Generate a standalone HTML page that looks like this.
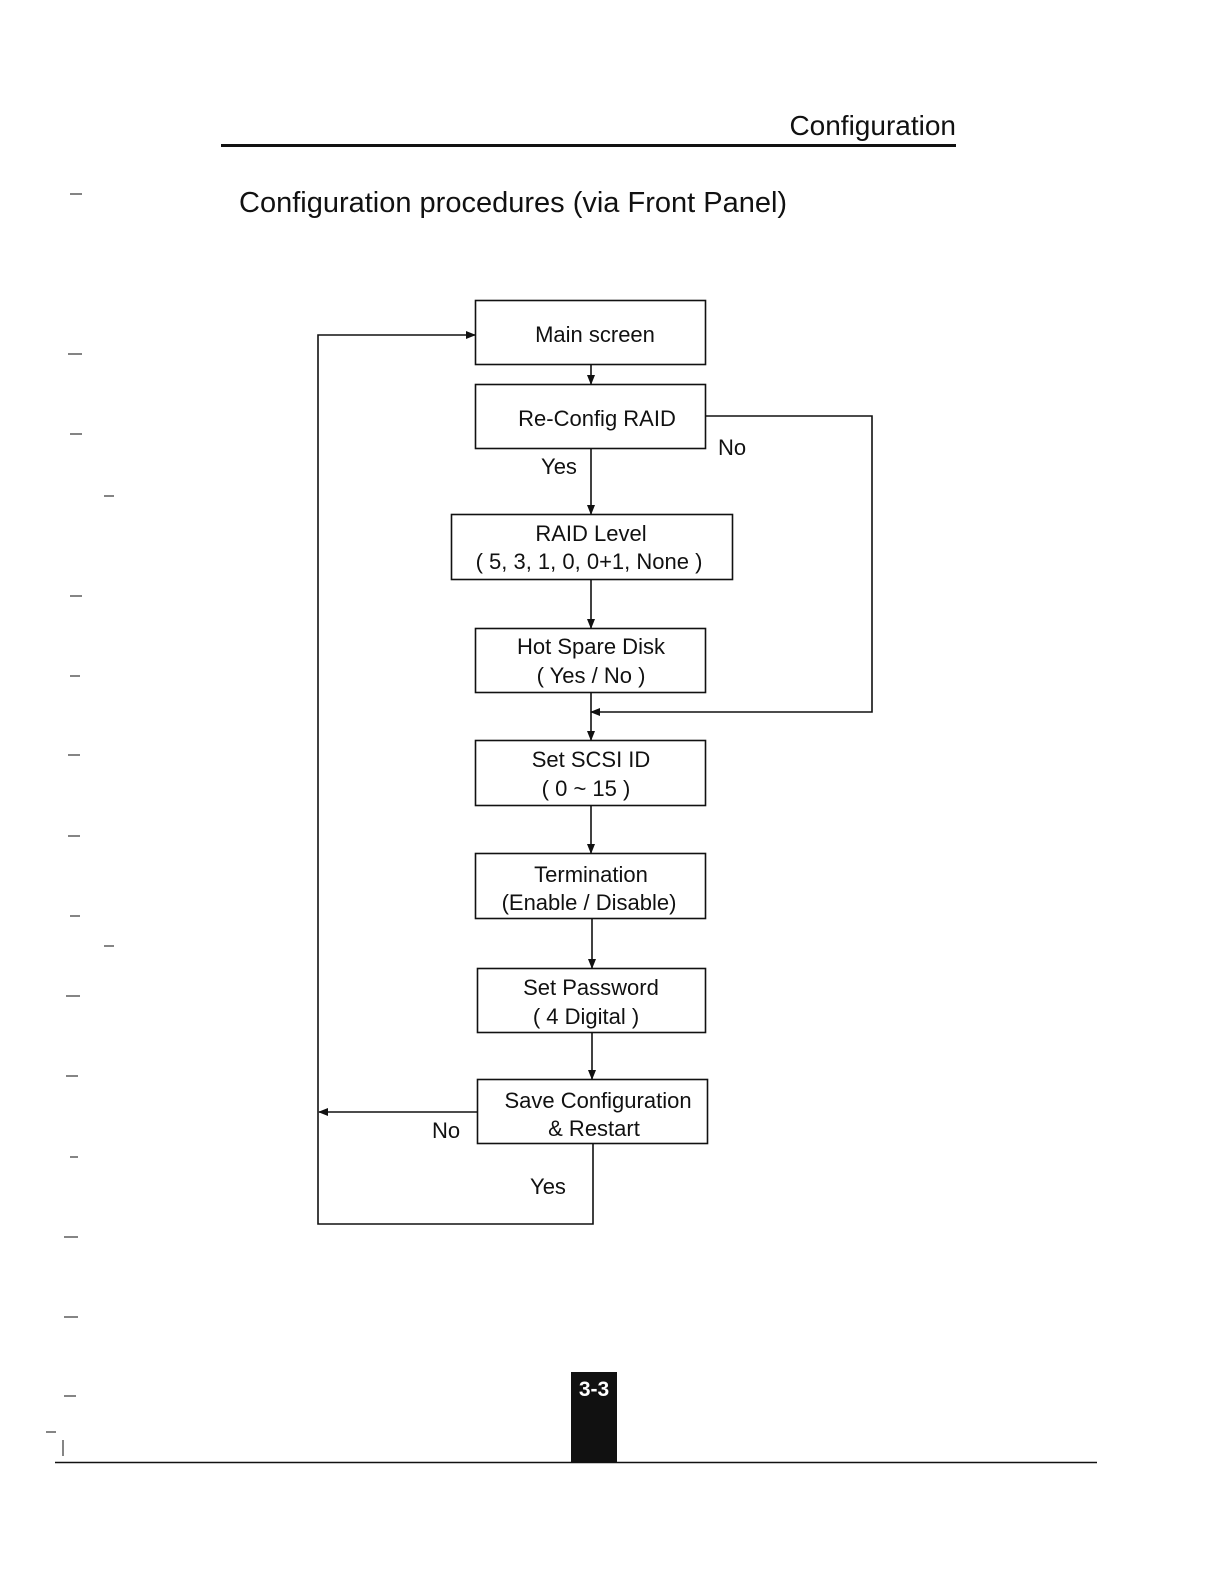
<!DOCTYPE html>
<html><head><meta charset="utf-8"><style>
html,body{margin:0;padding:0;background:#fff}
svg{display:block}
text{font-family:"Liberation Sans",sans-serif;fill:#111}
</style></head><body>
<svg width="1224" height="1584" viewBox="0 0 1224 1584" xmlns="http://www.w3.org/2000/svg">
<defs><marker id="a" markerWidth="10" markerHeight="10" refX="9" refY="5" orient="auto" markerUnits="userSpaceOnUse"><path d="M0,1 L10,5 L0,9 z" fill="#111"/></marker></defs>
<text x="956" y="135" font-size="28" text-anchor="end">Configuration</text>
<line x1="221" y1="145.5" x2="956" y2="145.5" stroke="#111" stroke-width="3"/>
<text x="239" y="212" font-size="29">Configuration procedures  (via Front Panel)</text>
<g fill="none" stroke="#111" stroke-width="1.6">
<rect x="475.5" y="300.5" width="230" height="64"/>
<rect x="475.5" y="384.5" width="230" height="64"/>
<rect x="451.5" y="514.5" width="281" height="65"/>
<rect x="475.5" y="628.5" width="230" height="64"/>
<rect x="475.5" y="740.5" width="230" height="65"/>
<rect x="475.5" y="853.5" width="230" height="65"/>
<rect x="477.5" y="968.5" width="228" height="64"/>
<rect x="477.5" y="1079.5" width="230" height="64"/>
<line x1="591" y1="364" x2="591" y2="384" marker-end="url(#a)"/>
<line x1="591" y1="448" x2="591" y2="514" marker-end="url(#a)"/>
<line x1="591" y1="579" x2="591" y2="628" marker-end="url(#a)"/>
<line x1="591" y1="692" x2="591" y2="740" marker-end="url(#a)"/>
<line x1="591" y1="805" x2="591" y2="853" marker-end="url(#a)"/>
<line x1="592" y1="918" x2="592" y2="968" marker-end="url(#a)"/>
<line x1="592" y1="1032" x2="592" y2="1079" marker-end="url(#a)"/>
<polyline points="705,416 872,416 872,712 591,712" marker-end="url(#a)"/>
<line x1="477" y1="1112" x2="319" y2="1112" marker-end="url(#a)"/>
<polyline points="593,1143 593,1224 318,1224 318,335 475,335" marker-end="url(#a)"/>
</g>
<g font-size="22" text-anchor="middle">
<text x="595" y="342">Main screen</text>
<text x="597" y="426">Re-Config RAID</text>
<text x="591" y="541">RAID Level</text>
<text x="589" y="569">( 5, 3, 1, 0, 0+1, None )</text>
<text x="591" y="654">Hot Spare Disk</text>
<text x="591" y="683">( Yes / No )</text>
<text x="591" y="767">Set SCSI ID</text>
<text x="586" y="796">( 0 ~ 15 )</text>
<text x="591" y="882">Termination</text>
<text x="589" y="910">(Enable / Disable)</text>
<text x="591" y="995">Set Password</text>
<text x="586" y="1024">( 4 Digital )</text>
<text x="598" y="1108">Save Configuration</text>
<text x="594" y="1136">&amp; Restart</text>
<text x="559" y="474">Yes</text>
<text x="732" y="455">No</text>
<text x="446" y="1138">No</text>
<text x="548" y="1194">Yes</text>
</g>
<rect x="571" y="1372" width="46" height="91" fill="#111"/>
<text x="594" y="1396" font-size="21" font-weight="bold" text-anchor="middle" style="fill:#fff">3-3</text>
<line x1="55" y1="1462.5" x2="1097" y2="1462.5" stroke="#111" stroke-width="1.5"/>
<g stroke="#333" stroke-width="1.2">
<line x1="70" y1="194" x2="82" y2="194"/><line x1="68" y1="354" x2="82" y2="354"/>
<line x1="70" y1="434" x2="82" y2="434"/><line x1="104" y1="496" x2="114" y2="496"/>
<line x1="70" y1="596" x2="82" y2="596"/><line x1="70" y1="676" x2="80" y2="676"/>
<line x1="68" y1="755" x2="80" y2="755"/><line x1="68" y1="836" x2="80" y2="836"/>
<line x1="70" y1="916" x2="80" y2="916"/><line x1="104" y1="946" x2="114" y2="946"/>
<line x1="66" y1="996" x2="80" y2="996"/><line x1="66" y1="1076" x2="78" y2="1076"/>
<line x1="70" y1="1157" x2="78" y2="1157"/><line x1="64" y1="1237" x2="78" y2="1237"/>
<line x1="64" y1="1317" x2="78" y2="1317"/><line x1="64" y1="1396" x2="76" y2="1396"/>
<line x1="46" y1="1432" x2="56" y2="1432"/><line x1="63" y1="1440" x2="63" y2="1456"/>
</g>
</svg>
</body></html>
